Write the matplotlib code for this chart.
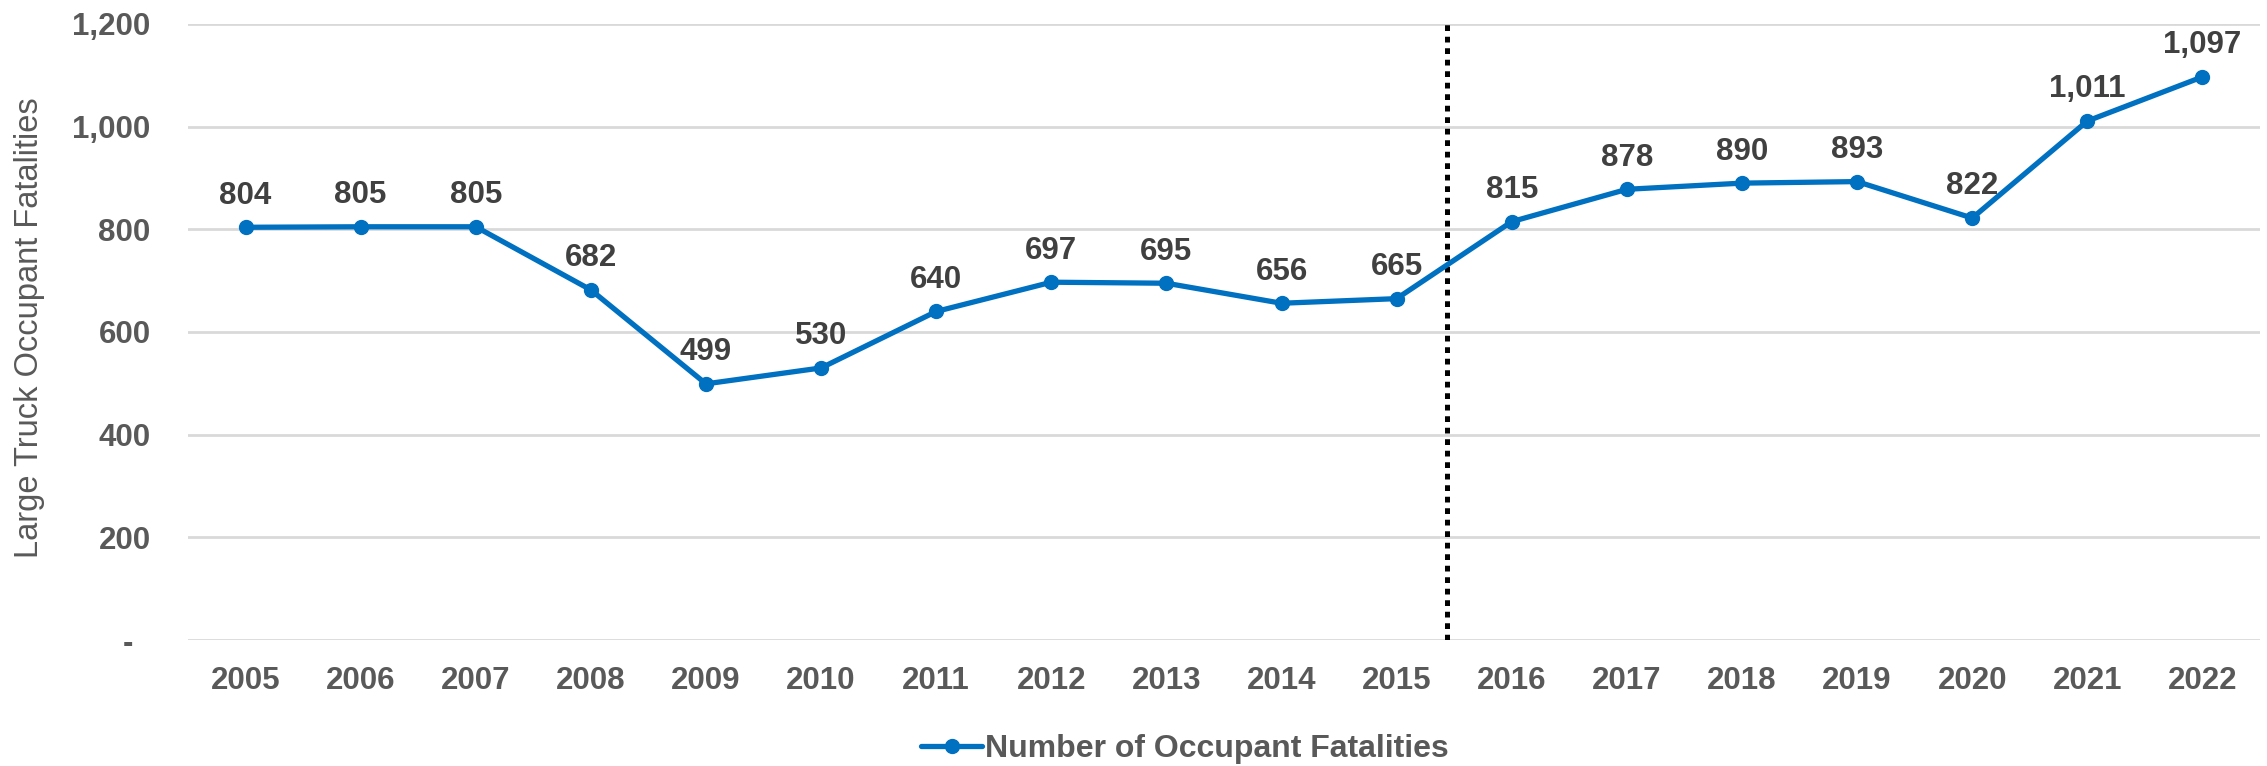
import matplotlib
matplotlib.use("Agg")
import matplotlib.pyplot as plt

# data
years = ['2005', '2006', '2007', '2008', '2009', '2010', '2011', '2012', '2013',
         '2014', '2015', '2016', '2017', '2018', '2019', '2020', '2021', '2022']
fatalities = [804, 805, 805, 682, 499, 530, 640, 697, 695,
              656, 665, 815, 878, 890, 893, 822, 1011, 1097]
yticks = [0, 200, 400, 600, 800, 1000, 1200]
ytick_labels = ['-  ', '200', '400', '600', '800', '1,000', '1,200']
series_name = 'Number of Occupant Fatalities'
ylabel = 'Large Truck Occupant Fatalities'

plt.rcParams['font.family'] = ['Liberation Sans', 'DejaVu Sans']

blue = '#0070C0'
tick_col = '#595959'
lab_col = '#404040'

fig = plt.figure(figsize=(22.67, 7.66), dpi=100)
ax = fig.add_axes([188/2267, 1-640/766, (2260-188)/2267, (640-24)/766])

x = list(range(len(years)))
ax.plot(x, fatalities, color=blue, lw=3.8, marker='o', ms=10, label=series_name,
        solid_capstyle='round', zorder=3)

for xi, v in zip(x, fatalities):
    ax.annotate(f'{v:,}', (xi, v), xytext=(0, 17), textcoords='offset points',
                ha='center', va='baseline', fontsize=22.5, fontweight='bold', color=lab_col)

# dotted separator between 2015 and 2016
ax.axvline(10.44, color='black', lw=3.6, ls=(0, (1.15, 1.15)), zorder=2)

ax.set_xlim(-0.5, len(years) - 0.5)
ax.set_ylim(0, 1200)
ax.set_xticks(x)
ax.set_xticklabels(years)
ax.set_yticks(yticks)
ax.set_yticklabels(ytick_labels)
ax.tick_params(axis='both', length=0, labelsize=22.5, labelcolor=tick_col)
ax.tick_params(axis='x', pad=19)
ax.tick_params(axis='y', pad=27)
for t in ax.get_xticklabels() + ax.get_yticklabels():
    t.set_fontweight('bold')
ax.grid(axis='y', color='#D9D9D9', lw=2)
ax.set_axisbelow(True)
for s in ax.spines.values():
    s.set_visible(False)

fig.text(30/2267, 1-328/766, ylabel, rotation=90,
         ha='center', va='center', fontsize=23.5, color=tick_col)

leg = fig.legend(loc='center', bbox_to_anchor=(1185/2267, 1-749/766), frameon=False,
                 handlelength=1.9, handletextpad=0.1,
                 prop={'weight': 'bold', 'size': 23})
for t in leg.get_texts():
    t.set_color(tick_col)

fig.savefig('out.png', dpi=100)
